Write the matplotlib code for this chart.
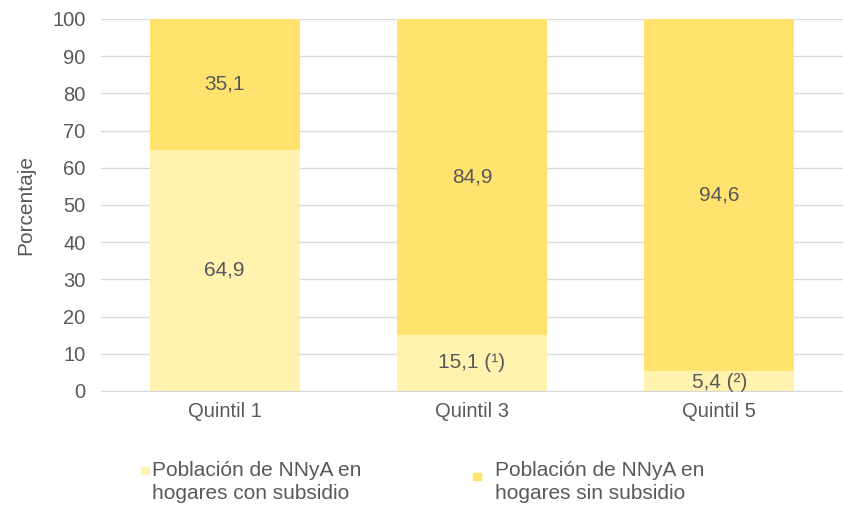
import matplotlib.pyplot as plt
from matplotlib.patches import Rectangle
import numpy as np

plt.rcParams['font.family'] = ['Liberation Sans', 'DejaVu Sans']

quintiles = ["Quintil 1", "Quintil 3", "Quintil 5"]
con_subsidio = [64.9, 15.1, 5.4]
sin_subsidio = [35.1, 84.9, 94.6]
labels_con = ["64,9", "15,1 (\u00b9)", "5,4 (\u00b2)"]
labels_sin = ["35,1", "84,9", "94,6"]
series_names = ["Población de NNyA en\nhogares con subsidio",
                "Población de NNyA en\nhogares sin subsidio"]

c_light = "#FFF3AF"
c_dark = "#FFE36E"
gray = "#595959"
fs = 15

W, H = 843, 508
fig = plt.figure(figsize=(W / 100, H / 100), dpi=100)
ax = fig.add_axes([101 / W, 1 - 391 / H, 742 / W, 372 / H])

x = np.arange(len(quintiles))
ax.bar(x, con_subsidio, width=0.606, color=c_light, zorder=2)
ax.bar(x, sin_subsidio, width=0.606, bottom=con_subsidio, color=c_dark, zorder=2)

for i in range(len(x)):
    y1 = con_subsidio[i] / 2 if con_subsidio[i] > 10 else 2.4
    ax.text(x[i], y1, labels_con[i], ha="center", va="center", fontsize=fs, color=gray, zorder=3)
    ax.text(x[i], con_subsidio[i] + sin_subsidio[i] / 2, labels_sin[i], ha="center", va="center",
            fontsize=fs, color=gray, zorder=3)

ax.set_xlim(-0.5, 2.5)
ax.set_ylim(0, 100)
ax.set_yticks(range(0, 101, 10))
ax.set_xticks(x)
ax.set_xticklabels(quintiles)
ax.grid(axis="y", color="#D9D9D9", linewidth=1, zorder=0)
for s in ["top", "right", "left"]:
    ax.spines[s].set_visible(False)
ax.spines["bottom"].set_color("#D9D9D9")
ax.tick_params(axis="both", length=0, labelsize=14.5, colors=gray)
ax.tick_params(axis="y", pad=11)
ax.tick_params(axis="x", pad=8)
ax.set_ylabel("Porcentaje", fontsize=fs, color=gray, labelpad=12)

# legend drawn by hand to match the spacing
leg = [(152, 141, 467, c_light), (495, 473, 473, c_dark)]
for (tx, mx, my, col), name in zip(leg, series_names):
    fig.patches.append(Rectangle((mx / W, 1 - (my + 7) / H), 8 / W, 7 / H,
                                 transform=fig.transFigure, color=col, figure=fig))
    fig.text(tx / W, 1 - 482 / H, name, ha="left", va="center", fontsize=fs,
             color=gray, linespacing=1.3)

fig.savefig("out.png", dpi=100)
